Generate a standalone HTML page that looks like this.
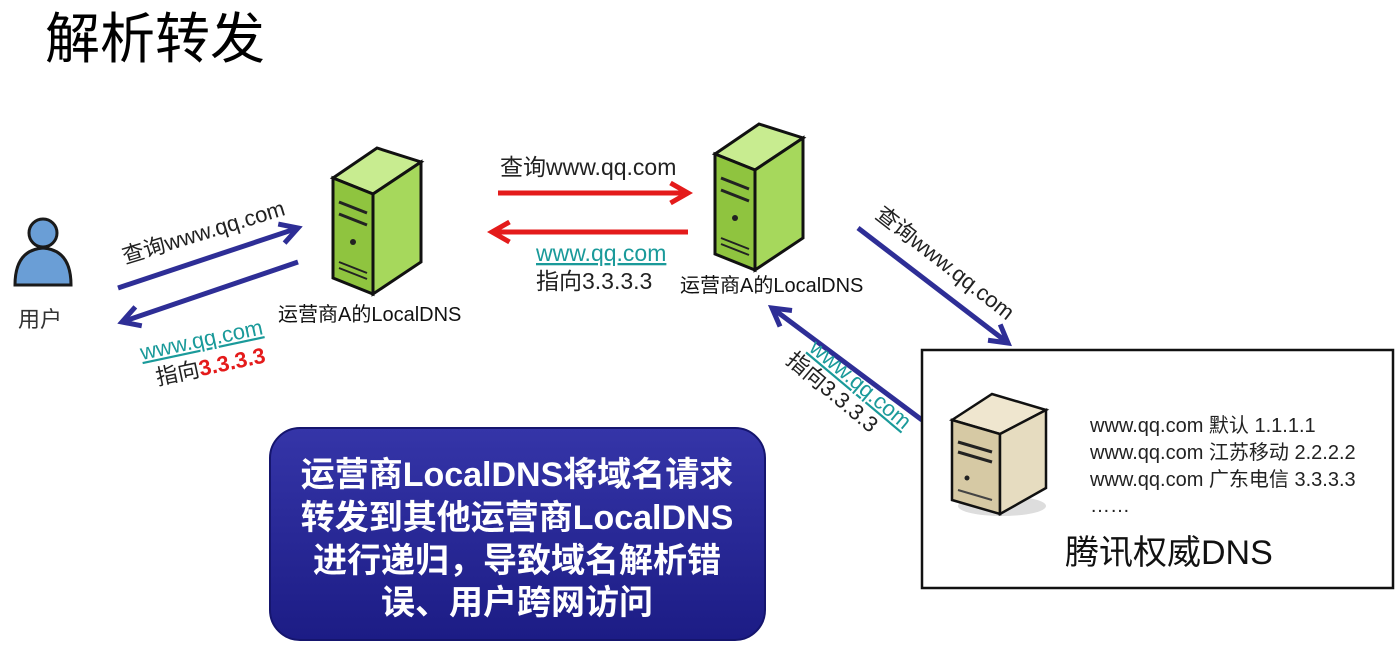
<!DOCTYPE html>
<html><head><meta charset="utf-8"><style>
body{margin:0;background:#fff;}
svg{display:block;font-family:"Liberation Sans","Noto Sans CJK SC",sans-serif;}
</style></head><body>
<svg width="1400" height="659" viewBox="0 0 1400 659" xmlns="http://www.w3.org/2000/svg">
<defs>
<marker id="ab" viewBox="0 0 10 10" refX="8" refY="5" markerWidth="5" markerHeight="5" orient="auto"><path d="M1,1 L8,5 L1,9" fill="none" stroke="#2e2e96" stroke-width="2"/></marker>
<marker id="ar" viewBox="0 0 10 10" refX="8" refY="5" markerWidth="5" markerHeight="5" orient="auto"><path d="M1,1 L8,5 L1,9" fill="none" stroke="#e41b1b" stroke-width="2"/></marker>
<linearGradient id="bp" x1="0" y1="0" x2="0" y2="1"><stop offset="0" stop-color="#3535a8"/><stop offset="1" stop-color="#1c1c85"/></linearGradient>
<g id="srv">
<polygon points="0,36 44,6 88,20 40,52" fill="#c8ec90" stroke="#111" stroke-width="3"/>
<polygon points="0,36 40,52 40,152 0,136" fill="#8fc43f" stroke="#111" stroke-width="3"/>
<polygon points="40,52 88,20 88,120 40,152" fill="#a6d85c" stroke="#111" stroke-width="3"/>
<line x1="6" y1="60" x2="34" y2="71" stroke="#222" stroke-width="3"/>
<line x1="6" y1="72" x2="34" y2="83" stroke="#222" stroke-width="3"/>
<circle cx="20" cy="100" r="3" fill="#222"/>
<line x1="6" y1="120" x2="34" y2="131" stroke="#222" stroke-width="2"/>
<line x1="6" y1="126" x2="34" y2="137" stroke="#222" stroke-width="2"/>
</g>
</defs>
<text x="45" y="58" font-size="55">解析转发</text>

<!-- user -->
<g>
<circle cx="43" cy="233" r="14" fill="#6a9ed6" stroke="#1a1a1a" stroke-width="3"/>
<path d="M15,285 Q15,250 43,248 Q71,250 71,285 Z" fill="#6a9ed6" stroke="#1a1a1a" stroke-width="3"/>
<text x="18" y="327" font-size="22" fill="#333">用户</text>
</g>

<use href="#srv" x="333" y="142"/>
<use href="#srv" x="715" y="118"/>
<text x="278" y="321" font-size="20" fill="#111">运营商A的LocalDNS</text>
<text x="680" y="292" font-size="20" fill="#111">运营商A的LocalDNS</text>

<!-- left arrows -->
<line x1="118" y1="288" x2="298" y2="228" stroke="#2e2e96" stroke-width="5" marker-end="url(#ab)"/>
<line x1="298" y1="262" x2="122" y2="322" stroke="#2e2e96" stroke-width="5" marker-end="url(#ab)"/>
<text x="125" y="264" font-size="22" fill="#222" transform="rotate(-17 125 264)">查询www.qq.com</text>
<g transform="rotate(-12 142 360)">
<text x="142" y="360" font-size="22" fill="#1a9a9a" text-decoration="underline">www.qq.com</text>
<text x="152" y="388" font-size="22" fill="#222">指向<tspan fill="#e41b1b" font-weight="bold">3.3.3.3</tspan></text>
</g>

<!-- red arrows -->
<line x1="498" y1="193" x2="688" y2="193" stroke="#e41b1b" stroke-width="5" marker-end="url(#ar)"/>
<line x1="688" y1="232" x2="492" y2="232" stroke="#e41b1b" stroke-width="5" marker-end="url(#ar)"/>
<text x="500" y="175" font-size="23" fill="#222">查询www.qq.com</text>
<text x="536" y="261" font-size="23" fill="#1a9a9a" text-decoration="underline">www.qq.com</text>
<text x="536" y="289" font-size="23" fill="#222">指向3.3.3.3</text>

<!-- right arrows -->
<line x1="858" y1="228" x2="1008" y2="343" stroke="#2e2e96" stroke-width="5" marker-end="url(#ab)"/>
<line x1="922" y1="420" x2="772" y2="308" stroke="#2e2e96" stroke-width="5" marker-end="url(#ab)"/>
<text x="874" y="217" font-size="22" fill="#222" transform="rotate(38 874 217)">查询www.qq.com</text>
<g transform="rotate(40 808 350)">
<text x="808" y="350" font-size="22" fill="#1a9a9a" text-decoration="underline">www.qq.com</text>
<text x="798" y="374" font-size="22" fill="#222">指向3.3.3.3</text>
</g>

<!-- box -->
<rect x="922" y="350" width="471" height="238" fill="#fff" stroke="#111" stroke-width="2.5"/>
<g transform="translate(952,388)">
<ellipse cx="50" cy="118" rx="44" ry="10" fill="#ddd"/>
<polygon points="0,32 40,6 94,22 48,46" fill="#efe6cf" stroke="#111" stroke-width="2.5"/>
<polygon points="0,32 48,46 48,126 0,112" fill="#d6c9a4" stroke="#111" stroke-width="2.5"/>
<polygon points="48,46 94,22 94,100 48,126" fill="#e6dcc0" stroke="#111" stroke-width="2.5"/>
<line x1="6" y1="54" x2="40" y2="64" stroke="#222" stroke-width="3"/>
<line x1="6" y1="64" x2="40" y2="74" stroke="#222" stroke-width="3"/>
<circle cx="15" cy="90" r="2.5" fill="#222"/>
<line x1="6" y1="102" x2="40" y2="112" stroke="#444" stroke-width="2"/>
</g>
<text font-size="20" fill="#222">
<tspan x="1090" y="432">www.qq.com 默认 1.1.1.1</tspan>
<tspan x="1090" y="459">www.qq.com 江苏移动 2.2.2.2</tspan>
<tspan x="1090" y="486">www.qq.com 广东电信 3.3.3.3</tspan>
<tspan x="1090" y="512">……</tspan>
</text>
<text x="1065" y="564" font-size="34" fill="#111">腾讯权威DNS</text>

<!-- blue panel -->
<rect x="270" y="428" width="495" height="212" rx="30" fill="url(#bp)" stroke="#15156e" stroke-width="2"/>
<g font-size="34" font-weight="bold" fill="#fff" text-anchor="middle">
<text x="517" y="486">运营商LocalDNS将域名请求</text>
<text x="517" y="529">转发到其他运营商LocalDNS</text>
<text x="517" y="572">进行递归，导致域名解析错</text>
<text x="517" y="614">误、用户跨网访问</text>
</g>
</svg>
</body></html>
